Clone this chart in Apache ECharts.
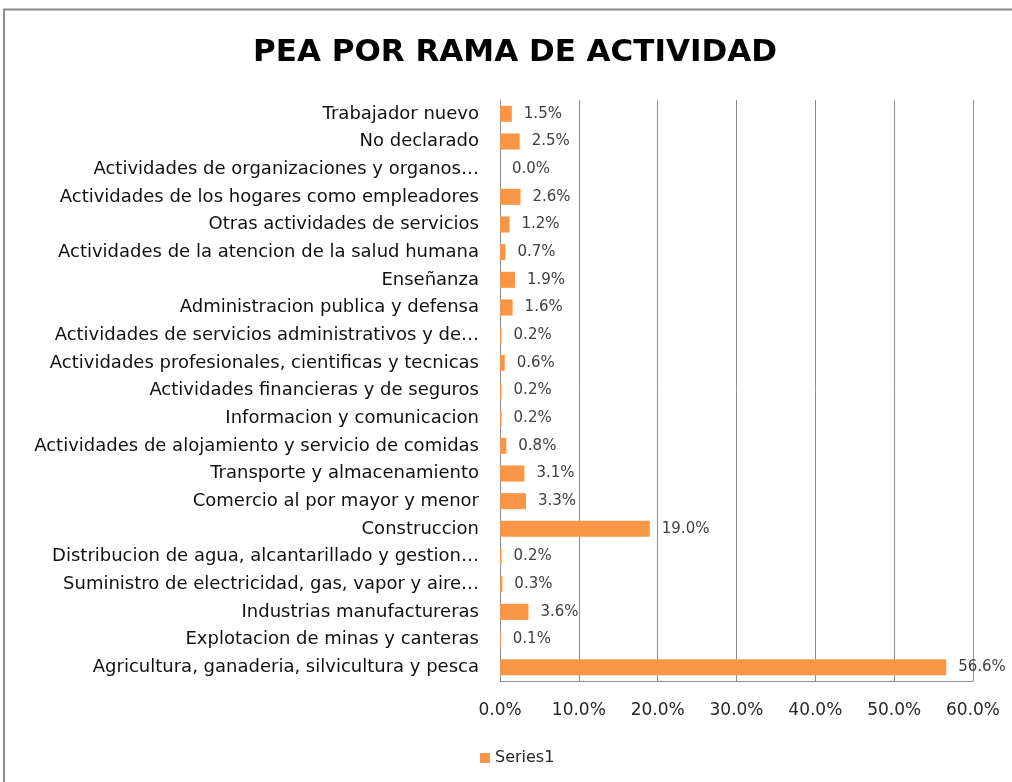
<!DOCTYPE html>
<html>
<head>
<meta charset="utf-8">
<script src="https://cdn.jsdelivr.net/npm/echarts@6/dist/echarts.min.js"></script>
<style>
  html, body { margin: 0; padding: 0; background: #fff; }
  #chart { width: 1012px; height: 782px; }
</style>
</head>
<body>
<div id="chart"></div>
<script>
// Economically active population by branch of activity (percent), bottom to top
const categories = [
  'Agricultura, ganaderia, silvicultura y pesca',
  'Explotacion de minas y canteras',
  'Industrias manufactureras',
  'Suministro de electricidad, gas, vapor y aire…',
  'Distribucion de agua, alcantarillado y gestion…',
  'Construccion',
  'Comercio al por mayor y menor',
  'Transporte y almacenamiento',
  'Actividades de alojamiento y servicio de comidas',
  'Informacion y comunicacion',
  'Actividades financieras y de seguros',
  'Actividades profesionales, cientificas y tecnicas',
  'Actividades de servicios administrativos y de…',
  'Administracion publica y defensa',
  'Enseñanza',
  'Actividades de la atencion de la salud humana',
  'Otras actividades de servicios',
  'Actividades de los hogares como empleadores',
  'Actividades de organizaciones y organos…',
  'No declarado',
  'Trabajador nuevo'
];
const series1 = [56.6, 0.1, 3.6, 0.3, 0.2, 19.0, 3.3, 3.1, 0.8, 0.2, 0.2, 0.6, 0.2, 1.6, 1.9, 0.7, 1.2, 2.6, 0.0, 2.5, 1.5];
const xTicks = { min: 0, max: 60, step: 10 };

const FONT = '"DejaVu Sans", sans-serif';
const chart = echarts.init(document.getElementById('chart'), null, { renderer: 'canvas' });

chart.setOption({
  backgroundColor: '#ffffff',
  animation: false,
  graphic: [{
    type: 'rect',
    shape: { x: 4, y: 9.5, width: 1040, height: 800 },
    style: { fill: 'none', stroke: '#8c8c8c', lineWidth: 2 },
    silent: true
  }],
  title: {
    text: 'PEA POR RAMA DE ACTIVIDAD',
    left: 248,
    top: 32,
    textStyle: { fontFamily: FONT, fontWeight: 'bold', fontSize: 31, color: '#000' }
  },
  legend: {
    data: ['Series1'],
    left: 475,
    top: 745,
    icon: 'rect',
    itemWidth: 10,
    itemHeight: 10,
    itemGap: 5,
    textStyle: { fontFamily: FONT, fontSize: 16, color: '#262626', padding: [0, 0, 0, 0] }
  },
  grid: { left: 500, right: 39, top: 100, bottom: 101, containLabel: false },
  xAxis: {
    type: 'value',
    min: xTicks.min,
    max: xTicks.max,
    interval: xTicks.step,
    axisLine: { show: true, lineStyle: { color: '#8c8c8c', width: 1 } },
    axisTick: { show: false },
    splitLine: { show: true, lineStyle: { color: '#8c8c8c', width: 1 } },
    axisLabel: {
      margin: 21,
      fontFamily: FONT,
      fontSize: 17,
      color: '#262626',
      formatter: v => v.toFixed(1) + '%'
    }
  },
  yAxis: {
    type: 'category',
    data: categories,
    axisLine: { show: true, lineStyle: { color: '#8c8c8c', width: 1 } },
    axisTick: { show: false },
    axisLabel: {
      margin: 21,
      fontFamily: FONT,
      fontSize: 18,
      color: '#111111',
      interval: 0
    }
  },
  series: [{
    name: 'Series1',
    type: 'bar',
    data: series1,
    barCategoryGap: '42%',
    itemStyle: { color: '#F79646' },
    label: {
      show: true,
      position: 'right',
      distance: 12,
      fontFamily: FONT,
      fontSize: 15,
      color: '#404040',
      formatter: p => p.value.toFixed(1) + '%'
    }
  }]
});
</script>
</body>
</html>
